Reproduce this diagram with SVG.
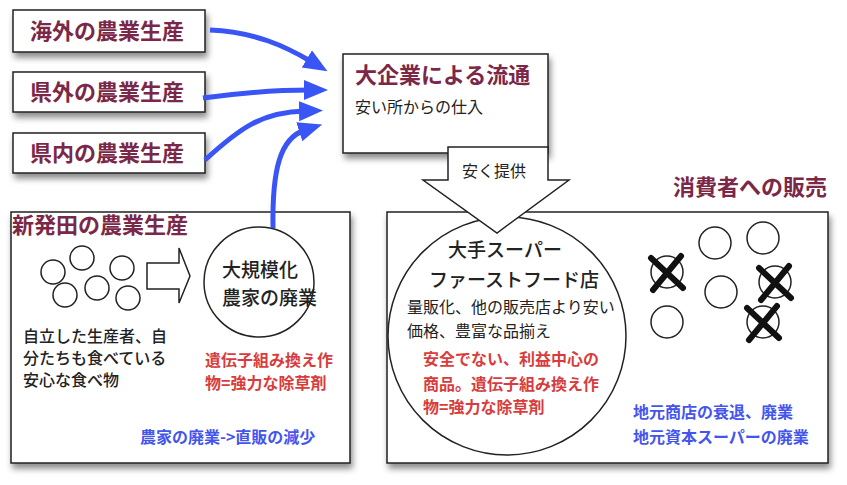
<svg xmlns="http://www.w3.org/2000/svg" width="847" height="485" viewBox="0 0 847 485">
<defs>
<filter id="sh" x="-10%" y="-10%" width="130%" height="140%">
<feDropShadow dx="2" dy="5" stdDeviation="3" flood-color="#000" flood-opacity="0.45"/>
</filter>
<marker id="ah" markerUnits="userSpaceOnUse" markerWidth="26" markerHeight="22" refX="6" refY="10" orient="auto">
<path d="M0,0 L24,10 L0,20 Z" fill="#3a55f5"/>
</marker>
<style>
text{font-family:"Noto Sans CJK JP","Noto Sans",sans-serif;}
.box{fill:#fff;stroke:#222;stroke-width:1.5;}
.ttl{fill:#7b2848;font-size:22px;font-weight:700;}
.blk{fill:#222;font-size:16px;font-weight:500;}
.red{fill:#d83c3c;font-size:16px;font-weight:700;}
.blu{fill:#4455ee;font-size:16px;font-weight:700;}
.c{fill:none;stroke:#222;stroke-width:1.5;}
.x{stroke:#111;stroke-width:6;stroke-linecap:round;}
.conn{fill:none;stroke:#3a55f5;stroke-width:5;marker-end:url(#ah);}
</style>
</defs>
<rect width="847" height="485" fill="#fff"/>

<g id="n-kaigai">
<rect class="box" x="13" y="10" width="192" height="42" filter="url(#sh)"/>
<text class="ttl" x="107" y="39" text-anchor="middle">海外の農業生産</text>
</g>
<g id="n-kengai">
<rect class="box" x="13" y="72" width="192" height="40" filter="url(#sh)"/>
<text class="ttl" x="107" y="100" text-anchor="middle">県外の農業生産</text>
</g>
<g id="n-kennai">
<rect class="box" x="13" y="133" width="192" height="40" filter="url(#sh)"/>
<text class="ttl" x="107" y="161" text-anchor="middle">県内の農業生産</text>
</g>

<g id="n-shibata">
<rect class="box" x="11" y="212" width="339" height="251" filter="url(#sh)"/>
<text class="ttl" x="12" y="233">新発田の農業生産</text>
<circle class="c" cx="53" cy="272" r="12"/>
<circle class="c" cx="82" cy="258" r="12"/>
<circle class="c" cx="122" cy="268" r="12"/>
<circle class="c" cx="65" cy="295" r="12"/>
<circle class="c" cx="97" cy="288" r="12"/>
<circle class="c" cx="128" cy="298" r="12"/>
<path class="c" d="M147,263 L179,263 L179,248 L190,276 L179,303 L179,289 L147,289 Z" fill="#fff"/>
<text class="blk" x="23" y="342">自立した生産者、自</text>
<text class="blk" x="23" y="364">分たちも食べている</text>
<text class="blk" x="23" y="386">安心な食べ物</text>
<text class="red" x="205" y="366">遺伝子組み換え作</text>
<text class="red" x="205" y="389">物=強力な除草剤</text>
<text class="blu" x="140" y="443">農家の廃業->直販の減少</text>
</g>

<g id="n-daikibo">
<circle class="c" cx="259" cy="282" r="55" fill="#fff"/>
<text class="blk" x="222" y="277" style="font-size:19px">大規模化</text>
<text class="blk" x="222" y="305" style="font-size:19px">農家の廃業</text>
</g>

<g id="n-shohisha">
<text class="ttl" x="827" y="195" text-anchor="end">消費者への販売</text>
<rect class="box" x="387" y="212" width="441" height="251" filter="url(#sh)"/>
<circle class="c" cx="715" cy="243" r="16"/>
<circle class="c" cx="763" cy="238" r="16"/>
<circle class="c" cx="667" cy="272" r="16"/>
<circle class="c" cx="721" cy="292" r="16"/>
<circle class="c" cx="775" cy="282" r="16"/>
<circle class="c" cx="667" cy="322" r="16"/>
<circle class="c" cx="763" cy="322" r="16"/>
<path class="x" d="M651,258 L683,288 M681,256 L653,290"/>
<path class="x" d="M759,268 L791,298 M789,266 L761,300"/>
<path class="x" d="M747,308 L779,338 M777,306 L749,340"/>
<text class="blu" x="633" y="418">地元商店の衰退、廃業</text>
<text class="blu" x="633" y="443">地元資本スーパーの廃業</text>
</g>

<g id="n-ote">
<circle class="c" cx="507" cy="336" r="119" fill="#fff"/>
<text class="blk" x="505" y="257" text-anchor="middle" style="font-size:19px">大手スーパー</text>
<text class="blk" x="514" y="287" text-anchor="middle" style="font-size:19px">ファーストフード店</text>
<text class="blk" x="407" y="313" style="font-weight:400">量販化、他の販売店より安い</text>
<text class="blk" x="407" y="337" style="font-weight:400">価格、豊富な品揃え</text>
<text class="red" x="423" y="365">安全でない、利益中心の</text>
<text class="red" x="423" y="390">商品。遺伝子組み換え作</text>
<text class="red" x="423" y="413">物=強力な除草剤</text>
</g>

<g id="n-daikigyo">
<rect class="box" x="343" y="54" width="205" height="99" filter="url(#sh)"/>
<text class="ttl" x="355" y="83">大企業による流通</text>
<text class="blk" x="355" y="113" style="font-weight:400">安い所からの仕入</text>
</g>

<g id="n-yasuku">
<path d="M448,147 L548,147 L548,180 L569,180 L497,233 L423,180 L448,180 Z" fill="#fff" stroke="#222" stroke-width="1.5"/>
<text class="blk" x="494" y="177" text-anchor="middle" style="font-weight:400">安く提供</text>
</g>

<g id="connectors">
<path class="conn" d="M210,30 C255,32 285,46 312,62"/>
<path class="conn" d="M203,98 C240,93 275,90 310,90"/>
<path class="conn" d="M205,160 C240,128 262,112 305,111"/>
<path class="conn" d="M273,228 C272,170 280,138 305,130"/>
</g>
</svg>
